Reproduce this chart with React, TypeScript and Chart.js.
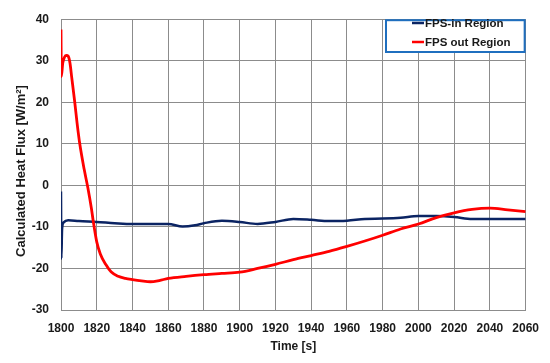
import React, { useEffect, useRef } from "react";
import { Chart, registerables } from "chart.js";

Chart.register(...registerables);

const xTicks = [1800, 1820, 1840, 1860, 1880, 1900, 1920, 1940, 1960, 1980, 2000, 2020, 2040, 2060];
const yTicks = [-30, -20, -10, 0, 10, 20, 30, 40];

const inTime = [1800, 1800.2, 1800.6, 1801.5, 1804, 1810, 1820, 1830, 1840, 1850, 1860, 1868, 1875, 1880, 1890, 1900, 1910, 1920, 1930, 1940, 1950, 1960, 1970, 1980, 1990, 2000, 2010, 2020, 2030, 2040, 2050, 2060];
const inFlux = [-1.5, -17.6, -10.5, -8.9, -8.4, -8.6, -8.8, -9.1, -9.3, -9.3, -9.3, -9.9, -9.6, -9.1, -8.5, -8.8, -9.3, -8.8, -8.1, -8.3, -8.6, -8.5, -8.1, -8.0, -7.8, -7.4, -7.4, -7.6, -8.1, -8.1, -8.1, -8.1];

const outTime = [1800, 1800.2, 1801, 1802, 1803, 1804, 1805, 1806, 1807.7, 1809, 1810.5, 1813, 1815, 1817, 1818, 1820, 1822, 1825, 1828, 1832, 1836, 1840, 1845, 1850, 1855, 1860, 1870, 1880, 1890, 1900, 1910, 1920, 1930, 1940, 1950, 1960, 1970, 1980, 1990, 2000, 2010, 2020, 2030, 2040, 2050, 2060];
const outFlux = [37.5, 26.2, 29.5, 30.9, 31.3, 31.1, 29.5, 26, 20, 15, 10, 3.8, -0.5, -5.5, -8.5, -13.6, -16.5, -19, -20.8, -21.9, -22.4, -22.7, -23.0, -23.2, -22.9, -22.4, -21.9, -21.5, -21.2, -20.9, -20.0, -19.0, -17.9, -16.9, -15.9, -14.7, -13.4, -12.0, -10.5, -9.3, -7.75, -6.6, -5.8, -5.5, -5.9, -6.3];

const seriesNames = ["FPS-in Region", "FPS out Region"];
const seriesColors = ["#0b2463", "#ff0000"];
const yTitle = "Calculated Heat Flux [W/m²]";
const xTitle = "Time [s]";

const FONT = "'Liberation Sans', Arial, sans-serif";

const legendPlugin = {
  id: "boxLegend",
  afterDraw(chart: any) {
    const ctx = chart.ctx;
    const area = chart.chartArea;
    const x1 = 386, y1 = area.top + 1, x2 = area.right - 1, y2 = 52;
    ctx.save();
    ctx.fillStyle = "#ffffff";
    ctx.fillRect(x1, y1, x2 - x1, y2 - y1);
    ctx.strokeStyle = "#1f6fbf";
    ctx.lineWidth = 2;
    ctx.strokeRect(x1, y1, x2 - x1, y2 - y1);
    const rows = [23, 42];
    seriesNames.forEach((name, i) => {
      ctx.strokeStyle = seriesColors[i];
      ctx.lineWidth = 2.5;
      ctx.beginPath();
      ctx.moveTo(412, rows[i]);
      ctx.lineTo(424, rows[i]);
      ctx.stroke();
      ctx.fillStyle = "#1a1a1a";
      ctx.font = "bold 11.5px " + FONT;
      ctx.textAlign = "left";
      ctx.textBaseline = "middle";
      ctx.fillText(name, 425, rows[i] + 0.5);
    });
    // rotated y-axis title
    ctx.translate(21, 171);
    ctx.rotate(-Math.PI / 2);
    ctx.fillStyle = "#1a1a1a";
    ctx.font = "bold 13px " + FONT;
    ctx.textAlign = "center";
    ctx.textBaseline = "middle";
    ctx.fillText(yTitle, 0, 0);
    ctx.restore();
  },
};

export default function App() {
  const ref = useRef<HTMLCanvasElement | null>(null);
  useEffect(() => {
    if (!ref.current) return;
    const chart = new Chart(ref.current, {
      type: "line",
      data: {
        datasets: [
          {
            label: seriesNames[0],
            data: inTime.map((t, i) => ({ x: t, y: inFlux[i] })),
            borderColor: seriesColors[0],
            borderWidth: 2.5,
            pointRadius: 0,
            cubicInterpolationMode: "monotone",
            order: 1,
          },
          {
            label: seriesNames[1],
            data: outTime.map((t, i) => ({ x: t, y: outFlux[i] })),
            borderColor: seriesColors[1],
            borderWidth: 2.8,
            pointRadius: 0,
            cubicInterpolationMode: "monotone",
            order: 0,
          },
        ],
      },
      options: {
        animation: false,
        responsive: false,
        layout: { padding: { left: 0, top: 11, right: 18, bottom: 0 } },
        plugins: { legend: { display: false }, tooltip: { enabled: false } },
        scales: {
          x: {
            type: "linear",
            min: 1800,
            max: 2060,
            afterBuildTicks: (s: any) => { s.ticks = xTicks.map((v) => ({ value: v })); },
            afterFit: (s: any) => { s.height = 53; },
            grid: { color: "#8c8c8c", lineWidth: 1, drawTicks: false },
            border: { color: "#8c8c8c" },
            ticks: { color: "#1a1a1a", padding: 11, font: { family: FONT, size: 12, weight: "bold" }, maxRotation: 0, callback: (v: any) => String(v) },
            title: { display: true, text: xTitle, color: "#1a1a1a", font: { family: FONT, size: 12, weight: "bold" }, padding: { top: 4, bottom: 9 } },
          },
          y: {
            type: "linear",
            min: -30,
            max: 40,
            afterBuildTicks: (s: any) => { s.ticks = yTicks.map((v) => ({ value: v })); },
            afterFit: (s: any) => { s.width = 61; },
            grid: { color: "#8c8c8c", lineWidth: 1, drawTicks: false },
            border: { color: "#8c8c8c" },
            ticks: { color: "#1a1a1a", padding: 12, font: { family: FONT, size: 12, weight: "bold" }, callback: (v: any) => String(v) },
            title: { display: false },
          },
        },
      },
      plugins: [legendPlugin],
    } as any);
    return () => chart.destroy();
  }, []);
  return (
    <div style={{ position: "fixed", left: 0, top: 0, width: 550, height: 363, background: "#fff" }}>
      <canvas ref={ref} width={550} height={363} style={{ display: "block" }} />
    </div>
  );
}
